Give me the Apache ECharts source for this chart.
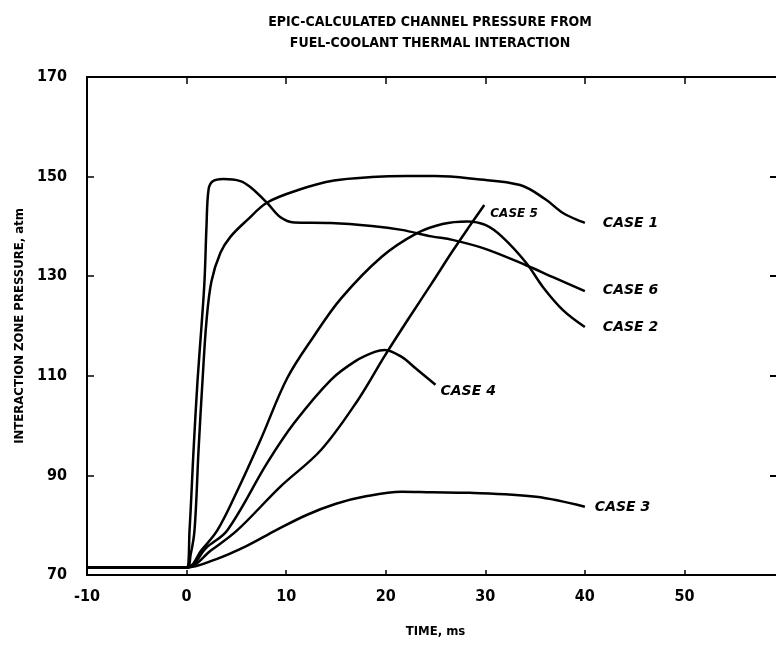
<!DOCTYPE html>
<html>
<head>
<meta charset="utf-8">
<script src="https://cdn.jsdelivr.net/npm/echarts@6/dist/echarts.min.js"></script>
<style>
  html, body { margin: 0; padding: 0; background: #fff; overflow: hidden; }
  #chart { width: 776px; height: 652px; }
</style>
</head>
<body>
<div id="chart"></div>
<script>
// 数据：时间 ms，压力 atm
var xTicks = [-10, 0, 10, 20, 30, 40, 50];
var yTicks = [70, 90, 110, 130, 150, 170];

var case1Time = [-10, 0, 0.4, 0.8, 1.2, 1.6, 2.0, 2.5, 3.4, 4.4, 6.1, 8.1, 11.2, 14.8, 18.6, 22.1, 25, 29, 33.5, 36, 37.8, 40];
var case1Pres = [71.5, 71.5, 74, 79, 95, 109, 121, 129, 134.7, 137.9, 141.3, 144.8, 147.3, 149.2, 149.9, 150.1, 150.1, 149.5, 148.3, 145.5, 142.7, 140.7];

var case2Time = [-10, 0, 1.5, 3.1, 5, 7.4, 10.1, 12.8, 15.5, 19.6, 23.1, 25.7, 28.2, 30, 31.7, 34.1, 35.8, 37.8, 40];
var case2Pres = [71.5, 71.5, 75, 79, 86.5, 97, 109.5, 118, 125.5, 133.9, 138.6, 140.5, 141, 140.3, 137.9, 132.7, 127.8, 123.2, 119.8];

var case3Time = [-10, 0, 3, 6, 9, 12, 15, 18, 21.6, 24.6, 28.4, 35.1, 40];
var case3Pres = [71.5, 71.5, 73.2, 75.8, 79, 82, 84.3, 85.8, 86.7, 86.6, 86.5, 85.7, 83.7];

var case4Time = [-10, 0, 2, 4.1, 8.1, 10.8, 14.5, 17, 18.9, 19.9, 21.6, 23, 25];
var case4Pres = [71.5, 71.5, 75.5, 79, 92.5, 100.5, 109.2, 113, 114.8, 115.2, 113.8, 111.5, 108.2];

var case5Time = [-10, 0, 2.5, 5.1, 9.4, 13.5, 17.2, 19.9, 22.3, 24.6, 26.7, 28.4, 29.9];
var case5Pres = [71.5, 71.5, 75, 79, 87.7, 95.1, 105.1, 114, 121.5, 128.5, 135, 140, 144.3];

var case6Time = [-10, 0, 0.3, 0.7, 1.1, 1.5, 1.8, 2.0, 2.2, 2.6, 3.7, 5.4, 6.4, 8.1, 9.4, 10.8, 14.5, 18.6, 21.6, 24.6, 26.7, 30, 34.1, 36.8, 40];
var case6Pres = [71.5, 71.5, 79, 95, 109, 120, 129, 140, 147.3, 149, 149.5, 149.1, 147.9, 144.7, 141.9, 140.8, 140.7, 140.1, 139.3, 138, 137.3, 135.5, 132.2, 129.8, 127];

function pairs(t, p) {
    var out = [];
    for (var i = 0; i < t.length; i++) out.push([t[i], p[i]]);
    return out;
}

var caseFont = 'DejaVu Sans';

function caseSeries(name, t, p, label, off, size) {
    return {
        name: name,
        type: 'line',
        data: pairs(t, p),
        showSymbol: false,
        smooth: 0.35,
        lineStyle: { color: '#000', width: 2.5 },
        endLabel: {
            show: true,
            formatter: label,
            offset: off,
            color: '#000',
            fontFamily: caseFont,
            fontWeight: 'bold',
            fontStyle: 'italic',
            fontSize: size || 14
        }
    };
}

var myChart = echarts.init(document.getElementById('chart'), null, { renderer: 'canvas' });

var option = {
    animation: false,
    backgroundColor: '#fff',
    graphic: [{
        type: 'text',
        x: 430,
        y: 12,
        style: {
            text: 'EPIC-CALCULATED CHANNEL PRESSURE FROM\nFUEL-COOLANT THERMAL INTERACTION',
            textAlign: 'center',
            fill: '#000',
            font: 'bold 14px "DejaVu Sans Condensed"',
            lineHeight: 21
        }
    }],
    grid: { left: 87, top: 77, width: 697, height: 498, outerBoundsMode: 'none', containLabel: false },
    xAxis: [{
        type: 'value',
        min: -10, max: 60, interval: 10,
        name: 'TIME, ms',
        nameLocation: 'middle',
        nameGap: 50,
        nameTextStyle: { color: '#000', fontFamily: 'DejaVu Sans Condensed', fontWeight: 'bold', fontSize: 13 },
        axisLine: { onZero: false, lineStyle: { color: '#000', width: 2 } },
        axisTick: { inside: true, length: 5, lineStyle: { color: '#000', width: 1.5 } },
        axisLabel: {
            margin: 14, color: '#000',
            fontFamily: 'DejaVu Sans Condensed', fontWeight: 'bold', fontSize: 16,
            formatter: function (v) { return xTicks.indexOf(v) >= 0 ? String(v) : ''; }
        },
        splitLine: { show: false }
    }, {
        type: 'value',
        position: 'top',
        min: -10, max: 60, interval: 10,
        axisLine: { show: true, onZero: false, lineStyle: { color: '#000', width: 2 } },
        axisTick: { show: true, inside: true, length: 7, lineStyle: { color: '#000', width: 1.5 } },
        axisLabel: { show: false },
        splitLine: { show: false }
    }],
    yAxis: [{
        type: 'value',
        min: 70, max: 170, interval: 20,
        name: 'INTERACTION ZONE PRESSURE, atm',
        nameLocation: 'middle',
        nameGap: 58,
        nameTextStyle: { color: '#000', fontFamily: 'DejaVu Sans Condensed', fontWeight: 'bold', fontSize: 13 },
        axisLine: { onZero: false, lineStyle: { color: '#000', width: 2 } },
        axisTick: { inside: true, length: 7, lineStyle: { color: '#000', width: 1.5 } },
        axisLabel: {
            margin: 20, color: '#000',
            fontFamily: 'DejaVu Sans Condensed', fontWeight: 'bold', fontSize: 16,
            formatter: function (v) { return yTicks.indexOf(v) >= 0 ? String(v) : ''; }
        },
        splitLine: { show: false }
    }, {
        type: 'value',
        position: 'right',
        min: 70, max: 170, interval: 20,
        axisLine: { show: true, onZero: false, lineStyle: { color: '#000', width: 2 } },
        axisTick: { show: true, inside: true, length: 14, lineStyle: { color: '#000', width: 2 } },
        axisLabel: { show: false },
        splitLine: { show: false }
    }],
    series: [
        caseSeries('case1', case1Time, case1Pres, 'CASE 1', [10, 0]),
        caseSeries('case6', case6Time, case6Pres, 'CASE 6', [10, -1]),
        caseSeries('case2', case2Time, case2Pres, 'CASE 2', [10, 0]),
        caseSeries('case4', case4Time, case4Pres, 'CASE 4', [-3, 7]),
        caseSeries('case5', case5Time, case5Pres, 'CASE 5', [-2, 9], 12),
        caseSeries('case3', case3Time, case3Pres, 'CASE 3', [2, 1])
    ]
};

myChart.setOption(option);
</script>
</body>
</html>
